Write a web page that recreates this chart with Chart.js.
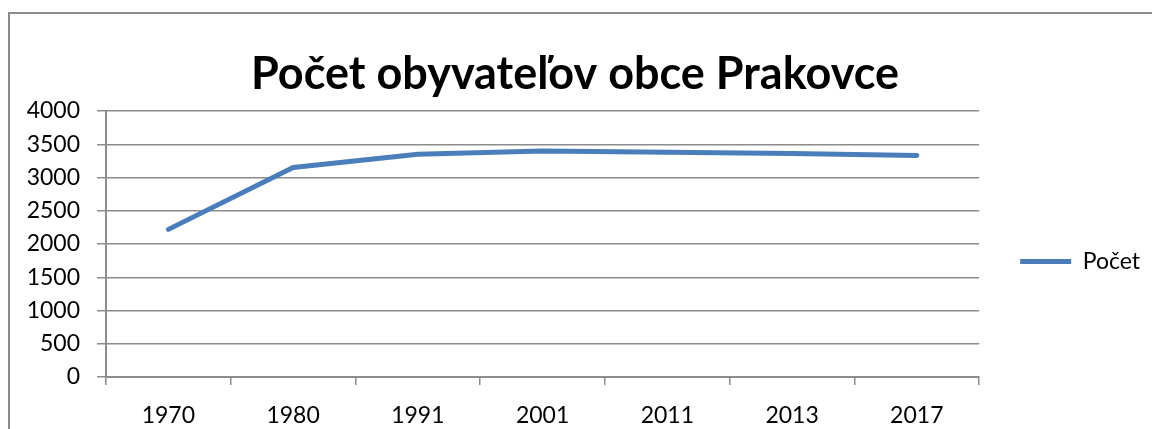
<!DOCTYPE html>
<html>
<head>
<meta charset="utf-8">
<script src="https://cdn.jsdelivr.net/npm/chart.js@4/dist/chart.umd.min.js"></script>
<style>
  html, body { margin: 0; padding: 0; background: #fff; overflow: hidden; }
  #wrap { position: relative; width: 1152px; height: 429px; }
  #frame { position: absolute; left: 8px; top: 12px; width: 1200px; height: 500px;
           border: 2px solid #8c8c8c; box-sizing: border-box; }
  #c { position: absolute; left: 0; top: 0; }
</style>
</head>
<body>
<div id="wrap">
  <div id="frame"></div>
  <canvas id="c" width="1152" height="429"></canvas>
</div>
<script>
const titleText = 'Počet obyvateľov obce Prakovce';
const seriesName = 'Počet';
const years = ['1970', '1980', '1991', '2001', '2011', '2013', '2017'];
const population = [2220, 3150, 3350, 3400, 3380, 3360, 3330];
const yTicks = [0, 500, 1000, 1500, 2000, 2500, 3000, 3500, 4000];

const FONT = 'Lato, "Open Sans", sans-serif';
const GRID = '#8c8c8c';
const BLUE = '#4a7ebb';

new Chart(document.getElementById('c'), {
  type: 'line',
  data: {
    labels: years,
    datasets: [{
      label: seriesName,
      data: population,
      borderColor: BLUE,
      backgroundColor: BLUE,
      borderWidth: 5,
      borderCapStyle: 'round',
      borderJoinStyle: 'round',
      pointRadius: 0,
      pointHoverRadius: 0,
      tension: 0,
      fill: false
    }]
  },
  options: {
    responsive: false,
    animation: false,
    devicePixelRatio: 1,
    layout: { padding: { left: 0, right: 2, top: 0, bottom: 0 } },
    plugins: {
      tooltip: { enabled: false },
      title: {
        display: true,
        text: titleText,
        color: '#000',
        font: { family: FONT, size: 45, weight: 'bold', lineHeight: 1.2 },
        padding: { top: 47, bottom: 10 }
      },
      legend: {
        display: true,
        position: 'right',
        title: { display: true, text: '', font: { size: 20, lineHeight: 1 }, padding: { top: 37, bottom: 37 } },
        labels: {
          color: '#000',
          font: { family: FONT, size: 23 },
          padding: 41,
          boxWidth: 51,
          usePointStyle: true,
          pointStyle: 'line',
          pointStyleWidth: 51
        }
      }
    },
    scales: {
      x: {
        type: 'category',
        offset: true,
        afterFit: (s) => { s.height = 52; },
        grid: {
          offset: true,
          drawOnChartArea: false,
          drawTicks: true,
          tickLength: 8,
          color: GRID,
          lineWidth: 1.5
        },
        border: { display: true, color: GRID, width: 2 },
        ticks: {
          color: '#000',
          font: { family: FONT, size: 23 },
          padding: 17,
          maxRotation: 0,
          autoSkip: false
        }
      },
      y: {
        min: 0,
        max: 4000,
        afterFit: (s) => { s.width = 106; },
        afterBuildTicks: (s) => { s.ticks = yTicks.map(v => ({ value: v })); },
        grid: {
          drawOnChartArea: true,
          drawTicks: true,
          tickLength: 9,
          color: GRID,
          lineWidth: 1.5
        },
        border: { display: true, color: GRID, width: 2 },
        ticks: {
          color: '#000',
          font: { family: FONT, size: 23 },
          padding: 17,
          callback: (v) => String(v)
        }
      }
    }
  }
});
</script>
</body>
</html>
